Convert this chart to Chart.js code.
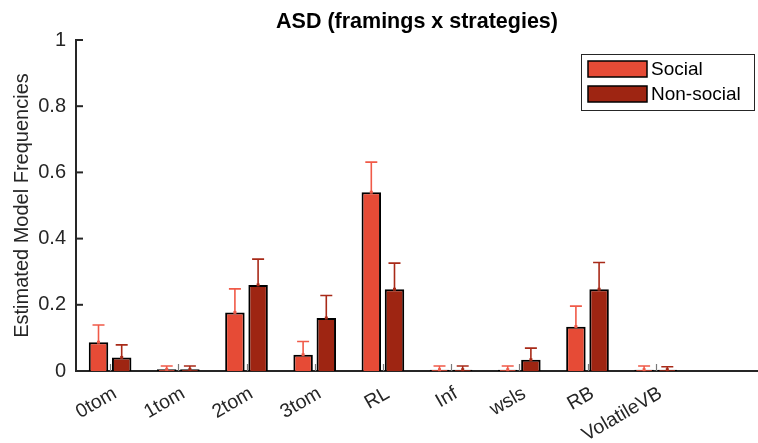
<!DOCTYPE html>
<html>
<head>
<meta charset="utf-8">
<script src="https://cdn.jsdelivr.net/npm/chart.js@4"></script>
<style>
  body { margin: 0; background: #fff; }
  #wrap { width: 758px; height: 443px; }
</style>
</head>
<body>
<div id="wrap"><canvas id="asdChart" width="758" height="443"></canvas></div>
<script>
// categories (last slot is empty, like the matlab axis)
const models = ["0tom", "1tom", "2tom", "3tom", "RL", "Inf", "wsls", "RB", "VolatileVB", ""];
const socialVals = [0.087, 0.005, 0.177, 0.049, 0.540, 0.004, 0.004, 0.134, 0.004, null];
const socialErr = [0.139, 0.015, 0.248, 0.089, 0.631, 0.015, 0.015, 0.196, 0.015, null];
const nonSocialVals = [0.041, 0.005, 0.260, 0.160, 0.247, 0.004, 0.034, 0.247, 0.004, null];
const nonSocialErr = [0.079, 0.015, 0.338, 0.228, 0.326, 0.015, 0.069, 0.328, 0.013, null];
const yTicks = [0, 0.2, 0.4, 0.6, 0.8, 1];
const titleText = 'ASD (framings x strategies)';

const axisColor = '#262626';
const fontFam = '"Liberation Sans", Arial, sans-serif';

// error bars (upper half only) + inward ticks + title over the axes
const errorBarPlugin = {
    id: 'errorBars',
    afterDatasetsDraw(chart) {
        const ctx = chart.ctx;
        const y = chart.scales.y;
        const x = chart.scales.x;
        ctx.save();
        chart.data.datasets.forEach((ds, i) => {
            const meta = chart.getDatasetMeta(i);
            meta.data.forEach((bar, j) => {
                const e = ds.errTop[j];
                if (e == null) return;
                const yTop = y.getPixelForValue(e);
                const yBar = y.getPixelForValue(ds.data[j]);
                ctx.strokeStyle = ds.errColor;
                ctx.lineWidth = 1.6;
                ctx.beginPath();
                ctx.moveTo(bar.x, yBar);
                ctx.lineTo(bar.x, yTop);
                ctx.moveTo(bar.x - 6, yTop);
                ctx.lineTo(bar.x + 6, yTop);
                ctx.stroke();
                ctx.fillStyle = ds.errColor;
                ctx.fillRect(bar.x - 1.5, yBar - 1.5, 3, 3);
            });
        });
        // matlab style tick marks pointing inward
        ctx.strokeStyle = '#7a7a7a';
        ctx.lineWidth = 1.2;
        for (let k = 0; k < models.length - 1; k++) {
            const px = Math.round(x.getPixelForValue(k)) + 0.5;
            ctx.beginPath();
            ctx.moveTo(px, y.bottom);
            ctx.lineTo(px, y.bottom - 7);
            ctx.stroke();
        }
        ctx.strokeStyle = axisColor;
        ctx.lineWidth = 2;
        yTicks.forEach(t => {
            const py = y.getPixelForValue(t);
            ctx.beginPath();
            ctx.moveTo(x.left, py);
            ctx.lineTo(x.left + 7, py);
            ctx.stroke();
        });
        ctx.fillStyle = '#000';
        ctx.font = 'bold 21.5px ' + fontFam;
        ctx.textAlign = 'center';
        ctx.textBaseline = 'middle';
        ctx.fillText(titleText, (chart.chartArea.left + chart.chartArea.right) / 2, 22);
        ctx.restore();
    }
};

// matlab-like legend box in the upper right
const boxLegendPlugin = {
    id: 'boxLegend',
    afterDraw(chart) {
        const ctx = chart.ctx;
        const left = 581, top = 54, w = 173, h = 56;
        ctx.save();
        ctx.fillStyle = '#fff';
        ctx.fillRect(left, top, w, h);
        ctx.strokeStyle = axisColor;
        ctx.lineWidth = 1;
        ctx.strokeRect(left + 0.5, top + 0.5, w, h);
        ctx.font = '19px ' + fontFam;
        ctx.textBaseline = 'middle';
        chart.data.datasets.forEach((ds, i) => {
            const cy = top + 15 + i * 25;
            ctx.fillStyle = ds.backgroundColor;
            ctx.fillRect(left + 7, cy - 8, 59, 16);
            ctx.strokeStyle = '#000';
            ctx.lineWidth = 1.5;
            ctx.strokeRect(left + 7, cy - 8, 59, 16);
            ctx.fillStyle = '#000';
            ctx.fillText(ds.label, left + 70, cy + 1);
        });
        ctx.restore();
    }
};

const ctx = document.getElementById('asdChart').getContext('2d');
new Chart(ctx, {
    type: 'bar',
    data: {
        labels: models,
        datasets: [{
            label: 'Social',
            data: socialVals,
            errTop: socialErr,
            errColor: '#f05a48',
            backgroundColor: '#e64b36',
            borderColor: '#000',
            borderWidth: 2
        }, {
            label: 'Non-social',
            data: nonSocialVals,
            errTop: nonSocialErr,
            errColor: '#a82a18',
            backgroundColor: '#9e2512',
            borderColor: '#000',
            borderWidth: 2
        }]
    },
    options: {
        responsive: false,
        animation: false,
        layout: { padding: { top: 40, right: 0, left: 10, bottom: 0 } },
        datasets: {
            bar: { categoryPercentage: 0.68, barPercentage: 0.84 }
        },
        plugins: {
            legend: { display: false },
            tooltip: { enabled: false },
            title: { display: false }
        },
        scales: {
            x: {
                offset: true,
                afterFit(scale) { scale.height = 72; },
                grid: { display: false, drawTicks: false },
                border: { color: axisColor, width: 2 },
                ticks: {
                    color: axisColor,
                    font: { family: fontFam, size: 19.5 },
                    minRotation: 30,
                    maxRotation: 30,
                    autoSkip: false,
                    labelOffset: 5,
                    padding: 11
                }
            },
            y: {
                min: 0,
                max: 1,
                afterBuildTicks(scale) {
                    scale.ticks = yTicks.map(v => ({ value: v }));
                },
                afterFit(scale) { scale.width = 66; },
                grid: { display: false, drawTicks: false },
                border: { color: axisColor, width: 2 },
                title: {
                    display: true,
                    text: 'Estimated Model Frequencies',
                    color: axisColor,
                    font: { family: fontFam, size: 20 },
                    padding: 0
                },
                ticks: {
                    color: axisColor,
                    font: { family: fontFam, size: 20 },
                    padding: 10,
                    callback: v => String(v)
                }
            }
        }
    },
    plugins: [errorBarPlugin, boxLegendPlugin]
});
</script>
</body>
</html>
